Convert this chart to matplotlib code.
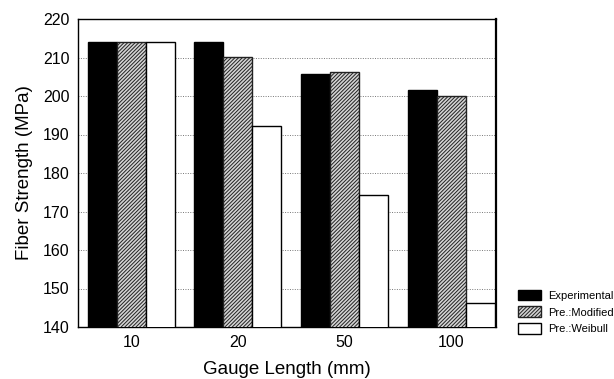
import numpy as np
import matplotlib
matplotlib.use("Agg")
import matplotlib.pyplot as plt
from matplotlib.patches import Patch

plt.rcParams["font.family"] = ["Liberation Sans", "DejaVu Sans"]
plt.rcParams["hatch.linewidth"] = 0.7
plt.rcParams["hatch.color"] = "#333333"

# ---------------------------------------------------------------- DATA -----
gauge_lengths = ["10", "20", "50", "100"]
experimental = [214.0, 214.0, 205.7, 201.6]
pre_modified = [214.0, 210.1, 206.2, 200.0]
pre_weibull = [214.0, 192.2, 174.3, 146.2]
series_labels = ["Experimental", "Pre.:Modified", "Pre.:Weibull"]

HATCH = "/" * 9
MOD_FACE = "#d4d4d4"

fig = plt.figure(figsize=(6.14, 3.79), dpi=100)
ax = fig.add_axes([78 / 614, 1 - 327 / 379, 418 / 614, 308 / 379])

x = np.arange(len(gauge_lengths))
w = 0.272
ax.bar(x - w, experimental, w, color="black", edgecolor="black",
       linewidth=1.0, zorder=3)
ax.bar(x, pre_modified, w, color=MOD_FACE, edgecolor="#222222", hatch=HATCH,
       linewidth=1.0, zorder=3)
ax.bar(x + w, pre_weibull, w, color="white", edgecolor="black",
       linewidth=1.0, zorder=3)

ax.set_ylim(140, 220)
ax.set_xlim(-0.5, 3.42)
ax.set_yticks(range(140, 221, 10))
ax.set_xticks(x)
ax.set_xticklabels(gauge_lengths)
ax.yaxis.grid(True, linestyle=(0, (1, 1.5)), color="#777777", linewidth=0.7, zorder=0)
ax.tick_params(axis="both", labelsize=11.5, length=0, pad=6)
for s in ax.spines.values():
    s.set_linewidth(1.0)
ax.spines["right"].set_linewidth(1.6)

ax.set_xlabel("Gauge Length (mm)", fontsize=13.5, labelpad=7.5)
ax.set_ylabel("Fiber Strength (MPa)", fontsize=13.5, labelpad=7)

handles = [
    Patch(facecolor="black", edgecolor="black"),
    Patch(facecolor=MOD_FACE, edgecolor="#222222", hatch=HATCH),
    Patch(facecolor="white", edgecolor="black"),
]
fig.legend(handles, series_labels, loc="center left",
           bbox_to_anchor=(514 / 614, 1 - 312 / 379), frameon=False,
           fontsize=8, handlelength=2.0, handleheight=1.1,
           handletextpad=0.7, labelspacing=0.5, borderaxespad=0)

fig.savefig("out.png", dpi=100)
